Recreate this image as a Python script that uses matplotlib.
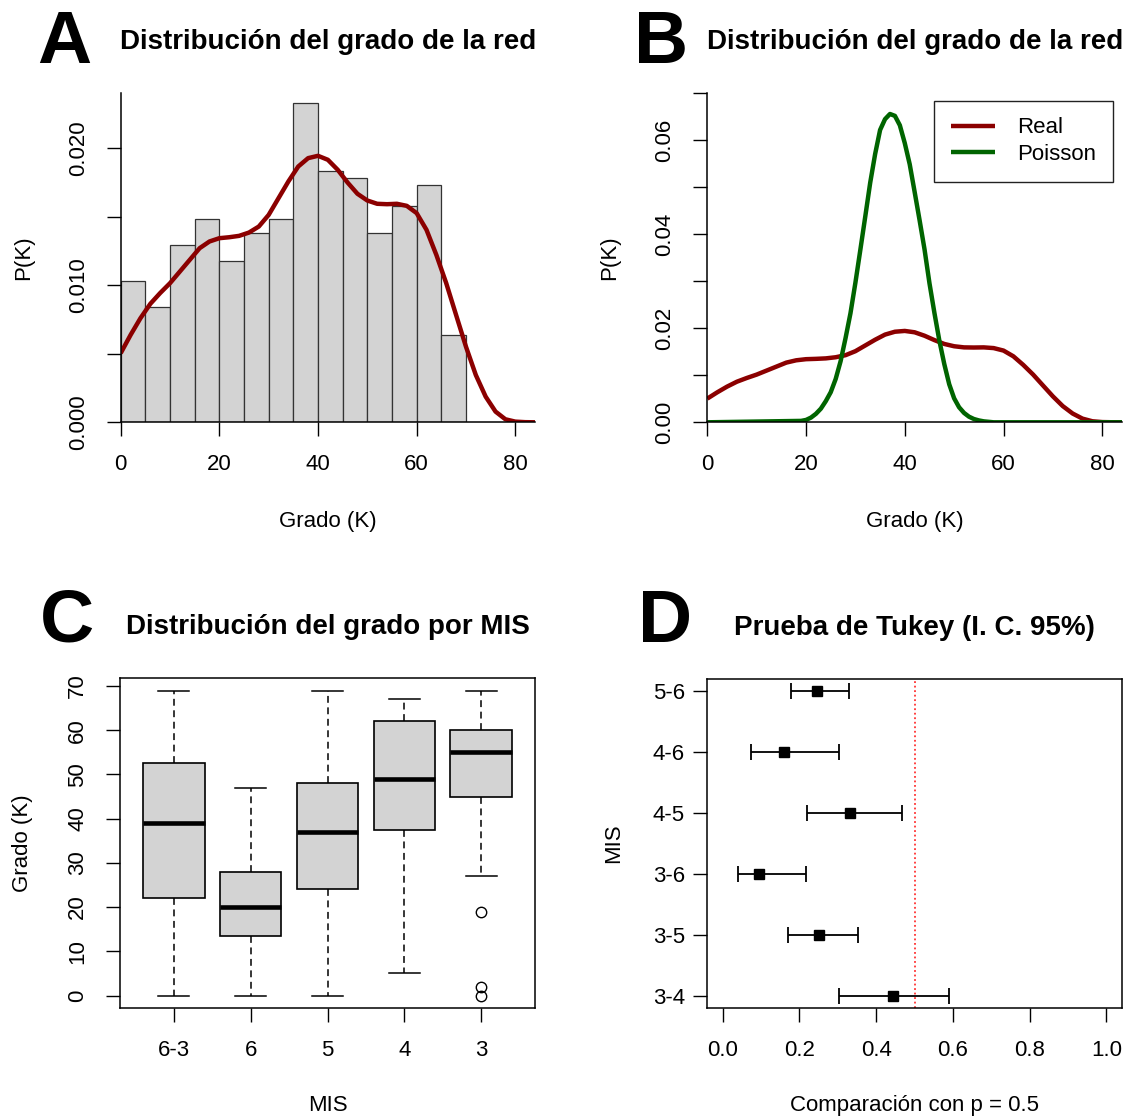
import matplotlib
matplotlib.use("Agg")
import matplotlib.pyplot as plt

plt.rcParams['font.family'] = ['Liberation Sans', 'DejaVu Sans']

# --- datos ---
# histograma del grado (densidad por intervalo de 5)
bin_left = [0, 5, 10, 15, 20, 25, 30, 35, 40, 45, 50, 55, 60, 65]
hist_density = [0.0103, 0.0084, 0.0129, 0.0148, 0.0118, 0.0138, 0.0148,
                0.0233, 0.0183, 0.0178, 0.0138, 0.0158, 0.0173, 0.0064]

# densidad real (kernel)
kde_k = [0, 2, 4, 6, 8, 10, 12, 14, 16, 18, 20, 22, 24, 26, 28, 30, 32, 34, 36, 38, 40,
         42, 44, 46, 48, 50, 52, 54, 56, 58, 60, 62, 64, 66, 68, 70, 72, 74, 76, 78, 80, 82, 84]
kde_p = [0.00504, 0.00637, 0.00759, 0.00864, 0.00943, 0.01015, 0.01100, 0.01185, 0.01270,
         0.01319, 0.01343, 0.01350, 0.01360, 0.01384, 0.01428, 0.01513, 0.01635, 0.01757,
         0.01866, 0.01927, 0.01944, 0.01915, 0.01842, 0.01749, 0.01667, 0.01618, 0.01594,
         0.01591, 0.01594, 0.01579, 0.01526, 0.01404, 0.01221, 0.01015, 0.00783, 0.00552,
         0.00345, 0.00187, 0.00078, 0.00022, 0.00005, 0.00001, 0.0]

# distribucion de Poisson
pois_k = [0, 19, 20, 21, 22, 23, 24, 25, 26, 27, 28, 29, 30, 31, 32, 33, 34, 35, 36, 37, 38,
          39, 40, 41, 42, 43, 44, 45, 46, 47, 48, 49, 50, 51, 52, 53, 54, 55, 56, 58, 84]
pois_p = [0.0, 0.0003, 0.0005, 0.0010, 0.0018, 0.0029, 0.0045, 0.0064, 0.0092, 0.0130,
          0.0179, 0.0232, 0.0297, 0.0367, 0.0438, 0.0510, 0.0571, 0.0622, 0.0645, 0.0656,
          0.0652, 0.0632, 0.0594, 0.0549, 0.0490, 0.0430, 0.0368, 0.0296, 0.0233, 0.0174,
          0.0124, 0.0081, 0.0051, 0.0032, 0.0020, 0.0012, 0.0007, 0.0004, 0.0002, 0.0, 0.0]

# boxplot del grado por MIS
mis_groups = ['6-3', '6', '5', '4', '3']
box_whislo = [0, 0, 0, 5, 27]
box_q1 = [22, 13.5, 24, 37.5, 45]
box_med = [39, 20, 37, 49, 55]
box_q3 = [52.5, 28, 48, 62, 60]
box_whishi = [69, 47, 69, 67, 69]
box_fliers = [[], [], [], [], [19, 2, 0]]

# prueba de Tukey
tukey_pairs = ['5-6', '4-6', '4-5', '3-6', '3-5', '3-4']
tukey_est = [0.246, 0.159, 0.331, 0.096, 0.250, 0.443]
tukey_lwr = [0.177, 0.074, 0.221, 0.039, 0.170, 0.303]
tukey_upr = [0.330, 0.303, 0.468, 0.216, 0.352, 0.590]

RED = '#8b0000'
GREEN = '#006400'
W, H = 1125, 1118

fig = plt.figure(figsize=(W / 100, H / 100), dpi=100)


def add_ax(left, top, right, bottom):
    return fig.add_axes([left / W, 1 - bottom / H, (right - left) / W, (bottom - top) / H])


def style(ax, box=False):
    for s in ['top', 'right']:
        ax.spines[s].set_visible(box)
    for s in ax.spines.values():
        s.set_linewidth(1.1)
    ax.tick_params(direction='out', length=10, width=1.0, labelsize=16, pad=13)


line_kw = dict(lw=3.2, solid_joinstyle='round', solid_capstyle='butt')

# A: histograma
axA = add_ax(120.7, 93.3, 535, 422.3)
axA.bar(bin_left, hist_density, width=5, align='edge', color='#d3d3d3',
        edgecolor='#333333', linewidth=0.9)
axA.plot(kde_k, kde_p, color=RED, **line_kw)
axA.set_xlim(0, 84)
axA.set_ylim(0, 0.024)
style(axA)
axA.set_xticks([0, 20, 40, 60, 80])
axA.set_yticks([0, 0.005, 0.010, 0.015, 0.020])
axA.set_yticklabels(['0.000', '', '0.010', '', '0.020'], rotation=90, va='center')
axA.set_xlabel('Grado (K)', fontsize=16)
axA.set_ylabel('P(K)', fontsize=16)
axA.xaxis.set_label_coords(0.5, -0.27)
axA.yaxis.set_label_coords(-0.21, 0.5)
axA.set_title('Distribución del grado de la red', fontsize=20, fontweight='bold', pad=32)

# B: real vs Poisson
axB = add_ax(707.3, 93.3, 1122, 422.3)
axB.plot(kde_k, kde_p, color=RED, label='Real', **line_kw)
axB.plot(pois_k, pois_p, color=GREEN, label='Poisson', **line_kw)
axB.set_xlim(0, 84)
axB.set_ylim(0, 0.07)
style(axB)
axB.set_xticks([0, 20, 40, 60, 80])
axB.set_yticks([0, 0.01, 0.02, 0.03, 0.04, 0.05, 0.06, 0.07])
axB.set_yticklabels(['0.00', '', '0.02', '', '0.04', '', '0.06', ''], rotation=90, va='center')
axB.set_xlabel('Grado (K)', fontsize=16)
axB.set_ylabel('P(K)', fontsize=16)
axB.xaxis.set_label_coords(0.5, -0.27)
axB.yaxis.set_label_coords(-0.21, 0.5)
axB.set_title('Distribución del grado de la red', fontsize=20, fontweight='bold', pad=32)
leg = axB.legend(loc='upper right', bbox_to_anchor=(0.979, 0.9775), borderaxespad=0,
                 fontsize=16, handlelength=2.0, handletextpad=1.0, labelspacing=0.25,
                 borderpad=0.75, fancybox=False, framealpha=1, edgecolor='#222222')
leg.get_frame().set_linewidth(1.0)

# C: boxplot
axC = add_ax(120, 678.3, 535, 1007.7)
stats = []
for i, g in enumerate(mis_groups):
    stats.append(dict(label=g, whislo=box_whislo[i], q1=box_q1[i], med=box_med[i],
                      q3=box_q3[i], whishi=box_whishi[i], fliers=box_fliers[i]))
axC.bxp(stats, widths=0.8, capwidths=0.4, patch_artist=True,
        boxprops=dict(facecolor='#d3d3d3', edgecolor='black', linewidth=1.2),
        medianprops=dict(color='black', linewidth=3.3, solid_capstyle='butt'),
        whiskerprops=dict(color='black', linewidth=1.1, linestyle=(0, (4.5, 3))),
        capprops=dict(color='black', linewidth=1.1),
        flierprops=dict(marker='o', markerfacecolor='none', markeredgecolor='black',
                        markersize=7.5, markeredgewidth=1.0))
axC.set_xlim(0.3, 5.7)
axC.set_ylim(-2.76, 71.76)
style(axC, box=True)
axC.set_yticks([0, 10, 20, 30, 40, 50, 60, 70])
axC.set_yticklabels(['0', '10', '20', '30', '40', '50', '60', '70'], rotation=90, va='center')
axC.set_xlabel('MIS', fontsize=16)
axC.set_ylabel('Grado (K)', fontsize=16)
axC.xaxis.set_label_coords(0.5, -0.265)
axC.yaxis.set_label_coords(-0.21, 0.5)
axC.set_title('Distribución del grado por MIS', fontsize=20, fontweight='bold', pad=32)

# D: Tukey
axD = add_ax(707.3, 679, 1121.7, 1007.7)
ypos = list(range(len(tukey_pairs), 0, -1))
xerr = [[e - l for e, l in zip(tukey_est, tukey_lwr)],
        [u - e for e, u in zip(tukey_est, tukey_upr)]]
axD.errorbar(tukey_est, ypos, xerr=xerr, fmt='s', color='black', ms=7,
             capsize=5.5, elinewidth=1.3, capthick=1.3)
axD.axvline(0.5, color='#ff3333', lw=1.3, linestyle=(0, (1, 1.5)))
axD.set_xlim(-0.04, 1.04)
axD.set_ylim(0.8, 6.2)
style(axD, box=True)
axD.set_xticks([0.0, 0.2, 0.4, 0.6, 0.8, 1.0])
axD.set_xticklabels(['0.0', '0.2', '0.4', '0.6', '0.8', '1.0'])
axD.set_yticks(ypos)
axD.set_yticklabels(tukey_pairs)
axD.tick_params(axis='y', pad=6)
axD.set_xlabel('Comparación con p = 0.5', fontsize=16)
axD.set_ylabel('MIS', fontsize=16)
axD.xaxis.set_label_coords(0.5, -0.265)
axD.yaxis.set_label_coords(-0.2, 0.5)
axD.set_title('Prueba de Tukey (I. C. 95%)', fontsize=20, fontweight='bold', pad=32)

# letras de panel
for letra, x, y in [('A', 37, 63), ('B', 634, 63), ('C', 40, 642), ('D', 638, 642)]:
    fig.text(x / W, 1 - y / H, letra, fontsize=54, fontweight='bold', ha='left', va='baseline')

fig.savefig('out.png', dpi=100)
